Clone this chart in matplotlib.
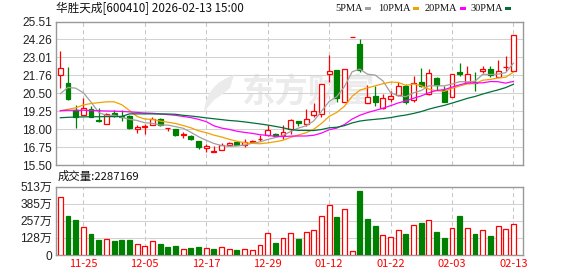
import matplotlib
matplotlib.use('Agg')
import matplotlib.pyplot as plt
from matplotlib.patches import Rectangle, PathPatch
from matplotlib.path import Path
import numpy as np

# trading days shown (60 candles)
dates = ['11-20', '11-21', '11-24', '11-25', '11-26', '11-27', '11-28', '12-01', '12-02', '12-03',
         '12-04', '12-05', '12-08', '12-09', '12-10', '12-11', '12-12', '12-15', '12-16', '12-17',
         '12-18', '12-19', '12-22', '12-23', '12-24', '12-25', '12-26', '12-29', '12-30', '12-31',
         '01-05', '01-06', '01-07', '01-08', '01-09', '01-12', '01-13', '01-14', '01-15', '01-16',
         '01-19', '01-20', '01-21', '01-22', '01-23', '01-26', '01-27', '01-28', '01-29', '01-30',
         '02-02', '02-03', '02-04', '02-05', '02-06', '02-09', '02-10', '02-11', '02-12', '02-13']

opens = [21.80, 21.22, 19.37, 19.02, 19.44, 18.63, 18.39, 19.13, 18.93, 18.90,
         18.02, 18.19, 18.32, 18.72, 18.10, 18.02, 17.63, 17.56, 17.21, 16.70,
         16.43, 16.54, 16.91, 17.10, 16.94, 17.12, 17.31, 17.63, 17.65, 17.58,
         18.00, 18.56, 18.39, 19.02, 19.09, 21.87, 22.10, 19.94, 24.43, 23.97,
         19.85, 20.34, 19.50, 20.13, 20.36, 21.03, 20.08, 21.33, 20.43, 21.59,
         20.75, 20.27, 21.98, 21.26, 21.33, 22.05, 22.21, 21.63, 22.33, 22.07]
closes = [22.28, 20.11, 18.88, 19.50, 18.88, 18.55, 19.04, 18.93, 18.86, 18.12,
          18.16, 18.23, 18.72, 18.28, 18.13, 17.58, 17.68, 17.31, 16.75, 16.87,
          16.47, 16.94, 17.07, 16.91, 17.14, 17.16, 17.35, 17.93, 17.56, 17.84,
          18.63, 18.47, 18.74, 19.25, 21.17, 22.07, 20.18, 22.21, 24.43, 22.10,
          20.27, 19.90, 20.18, 20.34, 21.03, 19.94, 21.22, 21.03, 21.94, 21.06,
          19.90, 21.87, 21.85, 21.87, 21.26, 22.21, 21.82, 22.07, 22.37, 24.59]
highs = [23.49, 22.33, 19.67, 20.20, 19.60, 19.48, 19.16, 19.37, 19.37, 19.02,
         18.30, 18.35, 18.88, 18.79, 18.13, 18.05, 17.81, 17.58, 17.22, 16.96,
         16.82, 17.05, 17.14, 17.12, 17.31, 17.28, 17.58, 18.32, 17.72, 18.32,
         18.72, 18.57, 19.44, 19.83, 21.17, 23.21, 22.10, 22.21, 24.43, 24.30,
         21.10, 20.99, 20.48, 20.66, 21.29, 21.17, 21.73, 22.24, 22.17, 21.68,
         20.99, 21.87, 22.61, 22.38, 21.98, 22.38, 22.38, 22.86, 23.09, 24.59]
lows = [20.89, 20.08, 18.12, 19.00, 18.86, 18.53, 18.39, 18.86, 18.58, 18.02,
        17.75, 17.70, 18.32, 18.26, 17.88, 17.55, 17.42, 17.28, 16.61, 16.43,
        16.43, 16.54, 16.91, 16.90, 16.77, 17.03, 17.19, 17.56, 17.47, 17.31,
        17.70, 18.23, 18.21, 18.86, 18.83, 21.29, 19.90, 19.94, 24.43, 21.98,
        19.85, 19.62, 19.44, 19.94, 20.29, 19.78, 19.90, 20.94, 20.36, 20.71,
        19.88, 20.27, 21.75, 21.26, 20.64, 21.94, 21.63, 21.63, 22.03, 22.07]

# volume in 万
volumes = [433, 291, 261, 207, 157, 112, 117, 105, 112, 112,
           80, 65, 102, 82, 60, 67, 42, 52, 60, 50,
           45, 57, 42, 37, 42, 35, 72, 162, 90, 125,
           162, 120, 169, 184, 289, 378, 284, 341, 30, 478,
           269, 217, 147, 132, 184, 157, 222, 239, 259, 172,
           127, 199, 289, 199, 157, 184, 142, 214, 192, 228.7]

ma5 = [20.48, 20.92, 20.87, 20.55, 19.90, 19.18, 18.97, 18.98, 18.85, 18.70,
       18.62, 18.46, 18.42, 18.30, 18.30, 18.19, 18.08, 17.80, 17.49, 17.24,
       17.02, 16.87, 16.82, 16.85, 16.91, 17.04, 17.13, 17.30, 17.43, 17.57,
       17.86, 18.09, 18.25, 18.59, 19.25, 19.94, 20.28, 20.98, 22.01, 22.20,
       21.84, 21.78, 21.38, 20.56, 20.34, 20.28, 20.54, 20.71, 21.03, 21.04,
       21.03, 21.16, 21.32, 21.31, 21.35, 21.83, 21.82, 21.85, 21.95, 22.61]
ma10 = [19.30, 19.40, 19.50, 19.70, 19.80, 19.86, 19.92, 19.92, 19.72, 19.32,
        18.90, 18.72, 18.70, 18.58, 18.50, 18.41, 18.27, 18.11, 17.90, 17.77,
        17.60, 17.47, 17.31, 17.17, 17.07, 17.03, 17.00, 17.06, 17.14, 17.24,
        17.45, 17.61, 17.77, 18.01, 18.41, 18.90, 19.18, 19.61, 20.30, 20.73,
        20.89, 21.03, 21.18, 21.29, 21.27, 21.06, 21.16, 21.04, 20.80, 20.69,
        20.65, 20.85, 21.02, 21.17, 21.19, 21.42, 21.48, 21.58, 21.63, 21.98]
ma20 = [19.30, 19.33, 19.33, 19.33, 19.32, 19.30, 19.28, 19.27, 19.25, 19.22,
        19.18, 19.14, 19.12, 19.08, 19.03, 18.98, 18.90, 18.82, 18.70, 18.54,
        18.25, 18.09, 18.00, 17.87, 17.79, 17.72, 17.63, 17.58, 17.52, 17.50,
        17.53, 17.54, 17.54, 17.59, 17.74, 17.97, 18.09, 18.34, 18.72, 18.98,
        19.17, 19.32, 19.47, 19.65, 19.84, 19.98, 20.17, 20.33, 20.55, 20.71,
        20.77, 20.94, 21.10, 21.23, 21.24, 21.24, 21.33, 21.32, 21.22, 21.34]
ma30 = [18.81, 18.84, 18.86, 18.87, 18.88, 18.88, 18.89, 18.89, 18.90, 19.08,
        19.08, 19.08, 19.08, 19.07, 19.07, 19.05, 18.98, 18.93, 18.87, 18.80,
        18.74, 18.68, 18.62, 18.58, 18.52, 18.45, 18.38, 18.30, 18.21, 18.11,
        17.99, 17.93, 17.93, 17.92, 17.99, 18.11, 18.15, 18.26, 18.45, 18.58,
        18.65, 18.70, 18.75, 18.82, 18.92, 19.00, 19.11, 19.24, 19.41, 19.55,
        19.67, 19.83, 19.99, 20.16, 20.29, 20.46, 20.61, 20.75, 20.91, 21.14]

price_labels = ['15.50', '16.75', '18.00', '19.25', '20.50', '21.76', '23.01', '24.26', '25.51']
vol_labels = ['0', '128万', '257万', '385万', '513万']
date_labels = ['11-25', '12-05', '12-17', '12-29', '01-12', '01-22', '02-03', '02-13']

ma_names = ['5PMA', '10PMA', '20PMA', '30PMA']
ma_colors = ['#a0a0a0', '#f2a200', '#ff00ff', '#00703a']

RED = '#ff0000'
GREEN = '#008000'
FRAME = '#999999'
GRID = '#d2d2d2'

W, H = 578, 276
fig = plt.figure(figsize=(W / 100, H / 100), dpi=100)

def px_axes(left, top, right, bottom):
    return fig.add_axes([left / W, 1 - bottom / H, (right - left) / W, (bottom - top) / H])

def fpx(px, py):
    # pixel (from top-left) -> figure fraction
    return (px / W, 1 - py / H)

ax = px_axes(56, 21.5, 522.7, 165.3)
axv = px_axes(56, 186.5, 522.7, 255)

x = np.arange(len(dates))
o = np.array(opens); c = np.array(closes)
up = c >= o
xlim = (-0.56, len(dates) + 0.21)
xt = [dates.index(d) for d in date_labels]

for a in (ax, axv):
    a.set_xlim(*xlim)
    a.set_xticks(xt)
    a.tick_params(length=0)
    for s in a.spines.values():
        s.set_color(FRAME)
        s.set_linewidth(1.0)
    for xi in xt:
        a.axvline(xi, color='#c8c8c8', lw=0.75, ls=(0, (4, 3)), zorder=0)
    a.set_axisbelow(True)

# price panel
pmin, pmax = float(price_labels[0]), float(price_labels[-1])
ax.set_ylim(pmin, pmax)
pt = np.linspace(pmin, pmax, len(price_labels))
ax.set_yticks(pt)
ax.set_yticklabels(price_labels, family='Liberation Sans', fontsize=8.6, color='#222222')
ax.yaxis.grid(True, color=GRID, lw=0.75)
ax.tick_params(axis='y', pad=3)
ax.set_xticklabels([])

# watermark: logo + name
ax.text(0.54, 0.50, '东方财富', transform=ax.transAxes, ha='center', va='center',
        family='Noto Sans CJK SC', fontweight='bold', fontsize=24, color='#ebebeb', zorder=0)
logo = Path([fpx(234, 75), fpx(206, 84), fpx(204, 112), fpx(214, 100),
             fpx(222, 95), fpx(230, 88), fpx(234, 75)],
            [Path.MOVETO, Path.CURVE3, Path.CURVE3, Path.LINETO,
             Path.CURVE3, Path.CURVE3, Path.CLOSEPOLY])
fig.patches.append(PathPatch(logo, transform=fig.transFigure, facecolor='#ebebeb',
                             edgecolor='none', zorder=0))

ax.vlines(x, lows, highs, colors=[RED if u else GREEN for u in up], lw=0.9, zorder=3)
ax.bar(x, c - o, bottom=o, width=0.64,
       color=['white' if u else GREEN for u in up],
       edgecolor=[RED if u else GREEN for u in up], lw=0.9, zorder=4)

for vals, col in zip([ma5, ma10, ma20, ma30], ma_colors):
    ax.plot(x, vals, color=col, lw=0.9, zorder=5)

# volume panel
prev = np.r_[o[0], c[:-1]]
vup = c >= prev
vmax = 513
axv.set_ylim(0, vmax)
axv.set_yticks(np.linspace(0, vmax, len(vol_labels)))
axv.set_yticklabels(vol_labels, family=['Liberation Sans', 'Noto Sans CJK SC'], fontsize=8.6, color='#222222')
axv.yaxis.grid(True, color=GRID, lw=0.75)
axv.tick_params(axis='y', pad=3)
axv.set_xticklabels(date_labels, family='Noto Sans CJK SC', fontsize=8, color=RED)
axv.tick_params(axis='x', pad=3)
axv.bar(x, volumes, width=0.64,
        color=['white' if u else GREEN for u in vup],
        edgecolor=[RED if u else GREEN for u in vup], lw=0.9, zorder=3)

# header texts
fig.text(56 / W, 1 - 8.5 / H, '华胜天成[600410] 2026-02-13 15:00', family='Noto Sans CJK SC',
         fontsize=8.4, color='#111111', ha='left', va='center')
fig.text(57.5 / W, 1 - 176.5 / H, '成交量:2287169', family='Noto Sans CJK SC',
         fontsize=8.2, color='#111111', ha='left', va='center')

# MA legend
sq_left = [365.3, 413.3, 460.0, 505.0]
for name, col, sx in zip(ma_names, ma_colors, sq_left):
    fig.text((sx - 2.5) / W, 1 - 8.8 / H, name, family='Liberation Serif', fontsize=7.5,
             color='#111111', ha='right', va='center')
    fig.patches.append(Rectangle(fpx(sx, 10), 6 / W, 3 / H, transform=fig.transFigure,
                                 facecolor=col, edgecolor='none'))

fig.savefig('out.png', dpi=100)
